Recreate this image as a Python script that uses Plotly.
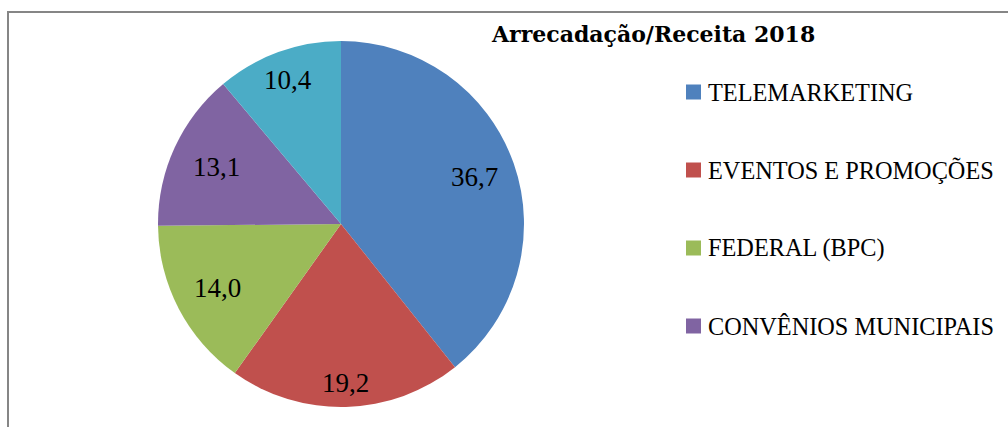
import math
import plotly.graph_objects as go

title = "Arrecadação/Receita 2018"
categories = ["TELEMARKETING", "EVENTOS E PROMOÇÕES", "FEDERAL (BPC)", "CONVÊNIOS MUNICIPAIS", "OUTROS"]
values = [36.7, 19.2, 14.0, 13.1, 10.4]
colors = ["#4F81BD", "#C0504D", "#9BBB59", "#8064A2", "#4BACC6"]
legend_count = 4  # only the first four legend entries are visible in the reference

W, H = 1008, 427
FONT = "Liberation Serif"

# pie geometry (pixels)
cx, cy, r = 341, 224, 183
label_radius = [0.77, 0.87, 0.76, 0.75, 0.84]  # best-fit style label placement

labels_txt = [f"{v:.1f}".replace(".", ",") for v in values]

fig = go.Figure()
fig.add_trace(go.Pie(
    labels=categories,
    values=values,
    textinfo="none",
    marker=dict(colors=colors, line=dict(width=0)),
    sort=False,
    direction="clockwise",
    rotation=0,
    showlegend=False,
    hoverinfo="label+value",
    domain=dict(x=[(cx - r) / W, (cx + r) / W], y=[(H - cy - r) / H, (H - cy + r) / H]),
))

shapes = [dict(type="rect", xref="paper", yref="paper",
               x0=8 / W, x1=1.05, y0=-0.05, y1=1 - 12 / H,
               line=dict(color="#868686", width=2), fillcolor="rgba(0,0,0,0)")]
annotations = [dict(text=f"<b>{title}</b>", x=653 / W, y=1 - 34 / H, xref="paper", yref="paper",
                    xanchor="center", yanchor="middle", showarrow=False,
                    font=dict(family="DejaVu Serif", size=22, color="black"))]

# data labels at slice mid-angles
total = sum(values)
cum = 0.0
for v, t, fr in zip(values, labels_txt, label_radius):
    mid = (cum + v / 2) / total * 2 * math.pi
    cum += v
    px = cx + fr * r * math.sin(mid)
    py = cy - fr * r * math.cos(mid)
    annotations.append(dict(text=t, x=px / W, y=1 - py / H, xref="paper", yref="paper",
                            xanchor="center", yanchor="middle", showarrow=False,
                            font=dict(family=FONT, size=27, color="black")))

y0, dy = 92, 78
for i in range(legend_count):
    yc = y0 + i * dy
    shapes.append(dict(type="rect", xref="paper", yref="paper",
                       x0=686 / W, x1=701 / W, y0=1 - (yc + 7.5) / H, y1=1 - (yc - 7.5) / H,
                       line=dict(width=0), fillcolor=colors[i]))
    annotations.append(dict(text=categories[i], x=706 / W, y=1 - yc / H, xref="paper", yref="paper",
                            xanchor="left", yanchor="middle", showarrow=False,
                            font=dict(family=FONT, size=24.3, color="black")))

fig.update_layout(
    width=W, height=H,
    margin=dict(l=0, r=0, t=0, b=0),
    paper_bgcolor="white", plot_bgcolor="white",
    shapes=shapes, annotations=annotations,
)

fig.write_html("out.html", config={"displayModeBar": False},
               post_script="document.body.style.margin='0px';document.body.style.overflow='hidden';")
